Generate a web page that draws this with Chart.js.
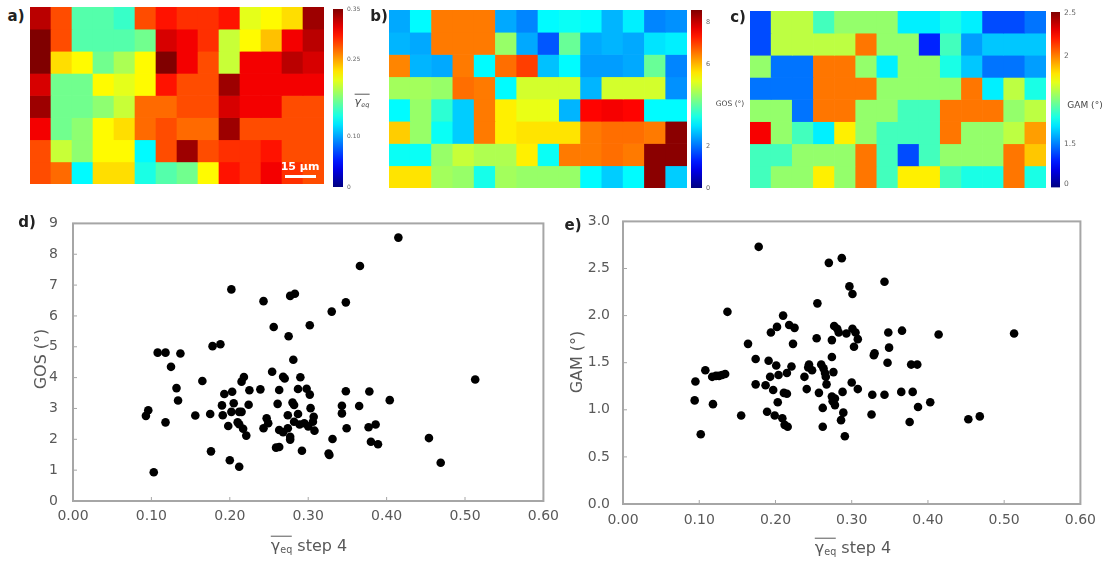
<!DOCTYPE html>
<html>
<head>
<meta charset="utf-8">
<script src="https://cdn.jsdelivr.net/npm/chart.js@4.4.1/dist/chart.umd.min.js"></script>
<style>
  body { margin: 0; background: #fff; }
  #fig { position: relative; width: 1108px; height: 562px; overflow: hidden;
         font-family: "DejaVu Sans", Verdana, sans-serif; color: #595959; }
  #fig canvas, #fig .t { position: absolute; }
  .t { white-space: nowrap; transform: translate(-50%, -50%); line-height: 1; }
  .panel { font-weight: bold; font-size: 15px; color: #222; }
  .ytitle { font-size: 16px; transform: translate(-50%, -50%) rotate(-90deg); }
  .xtitle { font-size: 16px; }
  .ov { display: inline-block; border-top: 1px solid #595959; padding-top: 1px; line-height: 1; }
  .ov sub { font-size: 60%; vertical-align: -2px; }
</style>
</head>
<body>
<div id="fig">
  <!-- top row: maps + colour bars -->
  <canvas id="mapA" width="294" height="177" style="left:30px;top:7px"></canvas>
  <canvas id="barA" width="40" height="196" style="left:333px;top:0px"></canvas>
  <canvas id="mapB" width="298" height="178" style="left:389px;top:10px"></canvas>
  <canvas id="barB" width="31" height="196" style="left:691px;top:0px"></canvas>
  <canvas id="mapC" width="296" height="177" style="left:750px;top:11px"></canvas>
  <canvas id="barC" width="29" height="196" style="left:1051px;top:0px"></canvas>

  <div class="t panel" style="left:16px;top:16px">a)</div>
  <div class="t panel" style="left:379px;top:16px">b)</div>
  <div class="t panel" style="left:738px;top:17px">c)</div>

  <div class="t" style="left:300px;top:166px;color:#fff;font-weight:bold;font-size:11px">15 µm</div>
  <div style="position:absolute;left:285px;top:175px;width:31px;height:3px;background:#fff"></div>

  <div class="t" style="left:362px;top:101px;font-size:11px;font-style:italic;color:#444"><span class="ov">γ<sub>eq</sub></span></div>
  <div class="t" style="left:730px;top:104px;font-size:7.5px;color:#444">GOS (°)</div>
  <div class="t" style="left:1085px;top:105px;font-size:9px;color:#444">GAM (°)</div>

  <!-- bottom row: scatter plots -->
  <canvas id="chartD" width="566" height="340" style="left:0px;top:200px"></canvas>
  <canvas id="chartE" width="554" height="340" style="left:550px;top:200px"></canvas>

  <div class="t panel" style="left:27px;top:222px">d)</div>
  <div class="t panel" style="left:573px;top:225px">e)</div>
  <div class="t ytitle" style="left:41px;top:359px">GOS (°)</div>
  <div class="t ytitle" style="left:577px;top:362px">GAM (°)</div>
  <div class="t xtitle" style="left:309px;top:545px"><span class="ov">γ<sub>eq</sub></span> step 4</div>
  <div class="t xtitle" style="left:853px;top:547px"><span class="ov">γ<sub>eq</sub></span> step 4</div>
</div>

<script>
// ---------- scatter data (d: GOS, e: GAM vs mean equivalent strain) ----------
const gosX = [0.415,0.366,0.202,0.243,0.277,0.283,0.348,0.330,0.302,0.256,0.275,0.178,0.188,0.108,0.118,0.137,0.125,0.281,0.254,0.268,
  0.270,0.290,0.218,0.215,0.165,0.132,0.134,0.193,0.203,0.225,0.239,0.263,0.287,0.298,0.302,0.348,0.378,0.404,0.513,0.190,
  0.205,0.224,0.261,0.280,0.282,0.303,0.343,0.365,0.093,0.096,0.156,0.175,0.191,0.202,0.212,0.215,0.274,0.287,0.307,0.343,
  0.118,0.198,0.210,0.212,0.247,0.249,0.243,0.217,0.221,0.263,0.268,0.274,0.282,0.289,0.295,0.300,0.306,0.308,0.277,0.277,
  0.259,0.263,0.292,0.176,0.200,0.212,0.103,0.326,0.327,0.331,0.349,0.377,0.386,0.380,0.389,0.454,0.469];
const gosY = [8.54,7.62,6.86,6.48,6.65,6.72,6.44,6.14,5.70,5.64,5.34,5.02,5.08,4.81,4.81,4.78,4.35,4.58,4.19,4.03,
  3.97,4.01,4.02,3.87,3.89,3.66,3.26,3.47,3.54,3.59,3.62,3.60,3.63,3.64,3.45,3.56,3.55,3.27,3.94,3.10,
  3.17,3.12,3.15,3.19,3.11,3.01,3.09,3.08,2.76,2.94,2.77,2.82,2.78,2.89,2.89,2.89,2.78,2.82,2.73,2.84,
  2.55,2.43,2.55,2.49,2.68,2.52,2.36,2.34,2.12,2.30,2.23,2.36,2.57,2.48,2.52,2.42,2.57,2.28,2.08,1.99,
  1.73,1.75,1.63,1.61,1.32,1.11,0.93,1.54,1.49,2.01,2.36,2.39,2.48,1.92,1.84,2.04,1.24];

const gamX = [0.178,0.270,0.287,0.343,0.255,0.297,0.301,0.137,0.210,0.202,0.194,0.218,0.225,0.164,0.223,0.254,0.274,0.277,0.281,0.283,
  0.293,0.301,0.305,0.308,0.303,0.348,0.349,0.366,0.414,0.513,0.174,0.191,0.201,0.221,0.244,0.243,0.248,0.260,0.263,0.274,
  0.330,0.329,0.347,0.378,0.386,0.095,0.108,0.117,0.122,0.126,0.130,0.134,0.193,0.204,0.215,0.238,0.265,0.266,0.276,0.174,
  0.187,0.197,0.241,0.257,0.267,0.300,0.308,0.288,0.211,0.215,0.327,0.343,0.365,0.380,0.094,0.118,0.203,0.274,0.278,0.275,
  0.278,0.403,0.387,0.262,0.189,0.199,0.155,0.289,0.326,0.209,0.212,0.216,0.262,0.286,0.376,0.453,0.468,0.102,0.291];
const gamY = [2.73,2.56,2.61,2.36,2.13,2.31,2.23,2.04,2.00,1.88,1.82,1.90,1.87,1.70,1.70,1.76,1.74,1.89,1.86,1.82,
  1.81,1.86,1.82,1.75,1.67,1.82,1.66,1.84,1.80,1.81,1.54,1.52,1.47,1.46,1.48,1.45,1.42,1.48,1.44,1.56,
  1.60,1.58,1.50,1.48,1.48,1.30,1.42,1.35,1.36,1.36,1.37,1.38,1.35,1.37,1.39,1.35,1.39,1.35,1.40,1.27,
  1.26,1.21,1.22,1.18,1.27,1.29,1.22,1.19,1.18,1.17,1.16,1.16,1.19,1.19,1.10,1.06,1.08,1.14,1.12,1.09,
  1.05,1.08,1.03,1.02,0.98,0.94,0.94,0.97,0.95,0.91,0.84,0.82,0.82,0.89,0.87,0.90,0.93,0.74,0.72];

const xTicks = [0, 0.1, 0.2, 0.3, 0.4, 0.5, 0.6];
const gosTicks = [0, 1, 2, 3, 4, 5, 6, 7, 8, 9];
const gamTicks = [0, 0.5, 1.0, 1.5, 2.0, 2.5, 3.0];

// ---------- maps, read cell by cell (14 columns x 8 rows) ----------
const strainMap = [
  [0.33,0.28,0.16,0.16,0.15,0.28,0.30,0.29,0.29,0.30,0.21,0.22,0.23,0.34],
  [0.35,0.28,0.16,0.16,0.16,0.17,0.32,0.31,0.29,0.20,0.22,0.24,0.31,0.33],
  [0.35,0.23,0.22,0.17,0.19,0.22,0.35,0.31,0.28,0.20,0.31,0.31,0.33,0.32],
  [0.32,0.17,0.17,0.22,0.21,0.22,0.30,0.28,0.28,0.34,0.31,0.31,0.31,0.31],
  [0.34,0.17,0.17,0.18,0.20,0.27,0.27,0.28,0.28,0.32,0.31,0.31,0.28,0.28],
  [0.31,0.17,0.18,0.22,0.23,0.27,0.28,0.27,0.27,0.34,0.28,0.28,0.28,0.28],
  [0.28,0.20,0.18,0.22,0.22,0.13,0.28,0.34,0.28,0.29,0.29,0.30,0.28,0.28],
  [0.28,0.27,0.13,0.23,0.23,0.14,0.16,0.17,0.22,0.30,0.29,0.31,0.29,0.28]
];
const gosMap = [
  [2.5,3.2,6.5,6.5,6.5,2.5,2.2,3.2,3.3,3.2,2.6,3.1,2.2,2.3],
  [2.6,2.5,6.5,6.5,6.5,4.5,2.5,1.8,4.1,2.5,2.6,2.5,3.0,3.1],
  [6.4,2.6,2.5,6.5,3.2,6.6,7.0,2.7,3.2,2.4,2.4,2.5,4.1,2.2],
  [4.6,4.6,4.5,6.6,6.5,3.2,5.0,5.0,5.0,2.6,5.0,5.0,5.0,2.3],
  [3.2,4.5,3.6,2.8,6.5,5.5,5.2,5.2,2.6,7.5,7.6,7.5,3.2,3.2],
  [5.8,4.5,3.3,2.8,6.5,5.5,5.6,5.6,5.6,6.5,6.6,6.6,6.5,8.5],
  [3.3,3.3,4.5,4.9,4.7,4.7,5.5,3.3,6.5,6.5,6.6,6.5,8.5,8.5],
  [5.6,5.6,4.6,4.5,3.4,4.6,4.5,4.5,4.5,3.2,2.8,3.2,8.5,2.8]
];
const gamMap = [
  [1.17,1.81,1.81,1.69,1.77,1.77,1.77,1.61,1.61,1.65,1.61,1.17,1.17,1.43],
  [1.17,1.81,1.81,1.81,1.81,2.02,1.77,1.77,0.91,1.69,1.53,1.57,1.57,1.57],
  [1.77,1.43,1.43,2.02,2.02,1.77,1.61,1.77,1.77,1.65,1.57,1.43,1.43,1.53],
  [1.43,1.43,1.43,2.02,2.02,2.02,1.77,1.77,1.77,1.77,2.02,1.61,1.81,1.65],
  [1.77,1.77,1.43,2.02,2.02,1.77,1.77,1.69,1.69,2.02,2.02,2.02,1.77,1.81],
  [2.27,1.77,1.69,1.61,1.89,1.77,1.69,1.69,1.69,2.02,1.77,1.77,1.81,1.97],
  [1.69,1.69,1.77,1.77,1.77,2.02,1.69,1.17,1.69,1.77,1.77,1.77,2.02,1.93],
  [1.69,1.77,1.77,1.89,1.77,2.02,1.69,1.89,1.89,1.69,1.65,1.65,2.02,1.65]
];

// colour bar ticks; the GAM bar is not linear, so its tick stops are given too
const strainTicks = [0, 0.10, 0.25, 0.35];
const strainLabels = ['0', '0.10', '0.25', '0.35'];
const strainMax = 0.35;
const gosBarTicks = [0, 2, 6, 8];
const gosBarLabels = ['0', '2', '6', '8'];
const gosMax = 8.6;
const gamBarTicks = [0, 1.5, 2, 2.5];
const gamBarLabels = ['0', '1.5', '2', '2.5'];
const gamBarStops = [0.017, 0.25, 0.75, 0.994];

function jet(t) {
  t = Math.min(1, Math.max(0, t));
  const c = v => Math.round(255 * Math.min(1, Math.max(0, v)));
  return `rgb(${c(1.5 - Math.abs(4 * t - 3))},${c(1.5 - Math.abs(4 * t - 2))},${c(1.5 - Math.abs(4 * t - 1))})`;
}

function piecewise(vals, stops) {
  return v => {
    let i = 0;
    while (i < vals.length - 2 && v > vals[i + 1]) i++;
    const f = (v - vals[i]) / (vals[i + 1] - vals[i]);
    return stops[i] + f * (stops[i + 1] - stops[i]);
  };
}

const fracStrain = v => v / strainMax;
const fracGos = v => v / gosMax;
const fracGam = piecewise(gamBarTicks, gamBarStops);

Chart.defaults.font.family = '"DejaVu Sans", Verdana, sans-serif';

function mapChart(id, grid, toFrac) {
  const datasets = grid.map(row => ({
    data: row.map(() => 1),
    backgroundColor: row.map(v => jet(toFrac(v))),
    borderWidth: 0,
    barPercentage: 1,
    categoryPercentage: 1
  }));
  new Chart(document.getElementById(id), {
    type: 'bar',
    data: { labels: grid[0].map((_, i) => i), datasets: datasets },
    options: {
      responsive: false,
      animation: false,
      layout: { padding: 0 },
      plugins: { legend: { display: false }, tooltip: { enabled: false } },
      scales: {
        x: { display: false, stacked: true },
        y: { display: false, stacked: true, min: 0, max: grid.length, reverse: true }
      }
    }
  });
}

function colourBar(id, ticks, labels, toFrac, padTop, padBottom, barW, fontSize) {
  new Chart(document.getElementById(id), {
    type: 'bar',
    data: {
      labels: [''],
      datasets: [{
        data: [[0, 1]],
        backgroundColor: ctx => {
          const a = ctx.chart.chartArea;
          if (!a) return '#888';
          const g = ctx.chart.ctx.createLinearGradient(0, a.bottom, 0, a.top);
          for (let i = 0; i <= 20; i++) g.addColorStop(i / 20, jet(i / 20));
          return g;
        },
        borderWidth: 0,
        barPercentage: 1,
        categoryPercentage: 1
      }]
    },
    options: {
      responsive: false,
      animation: false,
      layout: { padding: { top: padTop, bottom: padBottom, left: 0, right: 0 } },
      plugins: { legend: { display: false }, tooltip: { enabled: false } },
      scales: {
        x: { display: false },
        y: {
          position: 'right', min: 0, max: 1,
          grid: { display: false, drawTicks: false }, border: { display: false },
          afterBuildTicks: s => { s.ticks = ticks.map(v => ({ value: toFrac(v) })); },
          afterFit: s => { s.width = s.chart.width - barW; },
          ticks: {
            callback: (v, i) => labels[i],
            font: { size: fontSize }, color: '#666', padding: 4
          }
        }
      }
    }
  });
}

// grey box round the plot area, with short inward tick marks
const framePlugin = {
  id: 'frame',
  beforeDatasetsDraw(chart) {
    const { ctx, chartArea: a, scales } = chart;
    ctx.save();
    ctx.strokeStyle = '#a6a6a6';
    ctx.lineWidth = 2;
    ctx.strokeRect(a.left, a.top, a.right - a.left, a.bottom - a.top);
    ctx.lineWidth = 1;
    ctx.beginPath();
    scales.x.ticks.forEach(t => {
      const px = scales.x.getPixelForValue(t.value);
      ctx.moveTo(px, a.bottom); ctx.lineTo(px, a.bottom - 4);
    });
    scales.y.ticks.forEach(t => {
      const py = scales.y.getPixelForValue(t.value);
      ctx.moveTo(a.left, py); ctx.lineTo(a.left + 4, py);
    });
    ctx.stroke();
    ctx.restore();
  }
};

function scatterChart(id, xs, ys, yTicks, yDec, pad, yPad, xPad) {
  const c = document.getElementById(id);
  new Chart(c, {
    type: 'scatter',
    data: {
      datasets: [{
        data: xs.map((x, i) => ({ x: x, y: ys[i] })),
        backgroundColor: '#000',
        borderWidth: 0,
        pointRadius: 4.3,
        pointHoverRadius: 4.3
      }]
    },
    options: {
      responsive: false,
      animation: false,
      layout: { padding: { top: pad.top, right: pad.right, left: 0, bottom: 0 } },
      plugins: { legend: { display: false }, tooltip: { enabled: false } },
      scales: {
        x: {
          type: 'linear', min: xTicks[0], max: xTicks[xTicks.length - 1],
          grid: { display: false, drawTicks: false }, border: { display: false },
          afterBuildTicks: s => { s.ticks = xTicks.map(v => ({ value: v })); },
          afterFit: s => { s.height = pad.xh; },
          ticks: { callback: v => v.toFixed(2), font: { size: 14 }, color: '#595959',
                   padding: xPad, maxRotation: 0, autoSkip: false }
        },
        y: {
          type: 'linear', min: yTicks[0], max: yTicks[yTicks.length - 1],
          grid: { display: false, drawTicks: false }, border: { display: false },
          afterBuildTicks: s => { s.ticks = yTicks.map(v => ({ value: v })); },
          afterFit: s => { s.width = pad.yw; },
          ticks: { callback: v => v.toFixed(yDec), font: { size: 14 }, color: '#595959',
                   padding: yPad, autoSkip: false }
        }
      }
    },
    plugins: [framePlugin]
  });
}

mapChart('mapA', strainMap, fracStrain);
mapChart('mapB', gosMap, fracGos);
mapChart('mapC', gamMap, fracGam);
colourBar('barA', strainTicks, strainLabels, fracStrain, 9, 9, 10, 6);
colourBar('barB', gosBarTicks, gosBarLabels, fracGos, 10, 8, 11, 6.5);
colourBar('barC', gamBarTicks, gamBarLabels, fracGam, 12, 8, 9, 7.5);

scatterChart('chartD', gosX, gosY, gosTicks, 0, { top: 17, right: 20, xh: 39, yw: 73 }, 15, 7);
scatterChart('chartE', gamX, gamY, gamTicks, 1, { top: 21, right: 20, xh: 36, yw: 73 }, 13, 8);
</script>
</body>
</html>
